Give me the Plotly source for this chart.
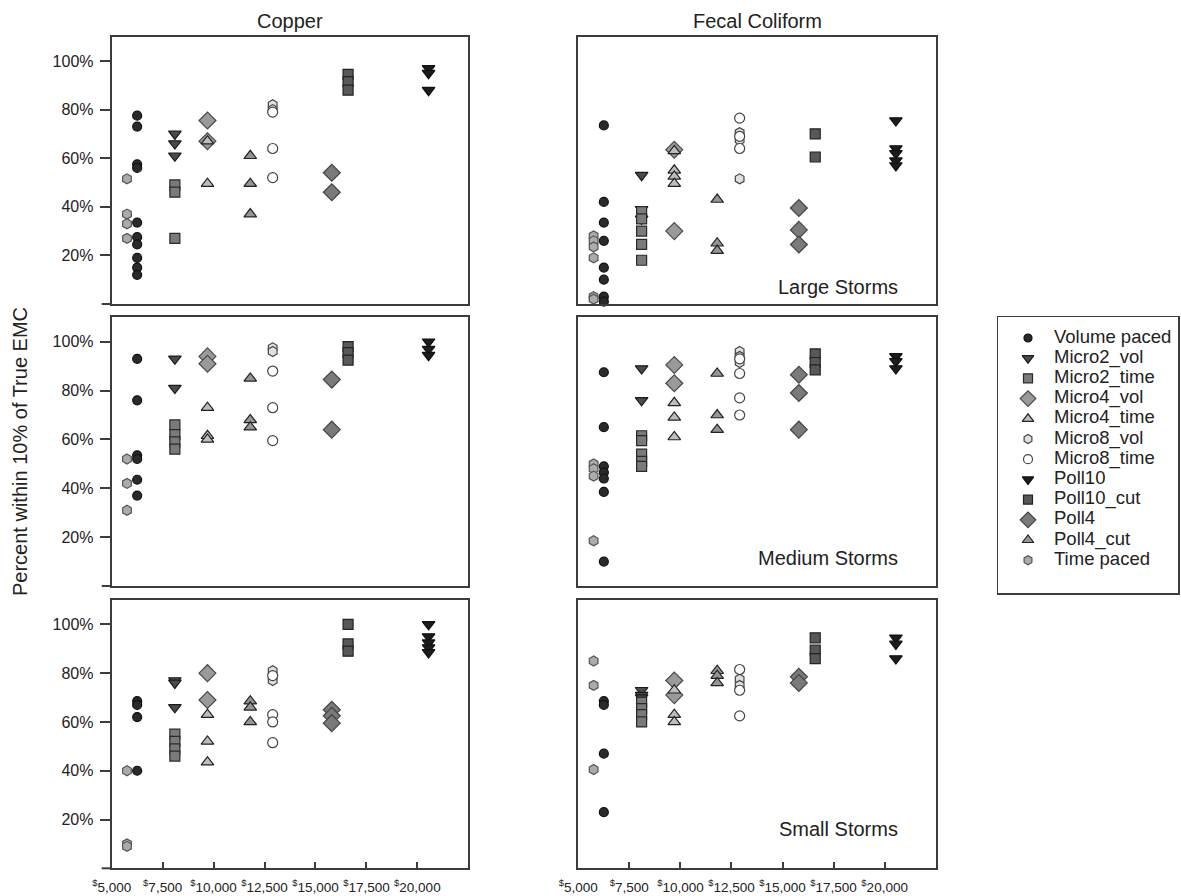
import plotly.graph_objects as go

W, H = 1181, 896

# ---------------- data ----------------
methods = ["Volume paced", "Micro2_vol", "Micro2_time", "Micro4_vol", "Micro4_time",
           "Micro8_vol", "Micro8_time", "Poll10", "Poll10_cut", "Poll4", "Poll4_cut", "Time paced"]
method_cost = [6250, 8100, 8100, 9700, 9700, 12900, 12900, 20550, 16600, 15800, 11800, 5750]

# values: percent within 10% of true EMC, one list per method (order as in `methods`)
copper_large = [
    [77.5, 73, 57.5, 56, 33.5, 27.5, 24.5, 19, 15, 12],
    [70, 66, 61], [49, 46, 27], [75.5, 67], [67, 49.5], [82, 80], [79, 64, 52],
    [97, 95, 88], [94.5, 91.5, 88], [54, 46], [61, 49.5, 37], [51.5, 37, 33, 27],
]
copper_medium = [
    [93, 76, 53.5, 52, 43.5, 37],
    [93, 81], [66, 62, 59, 56], [94, 91], [73, 61.5, 60], [97.5, 96], [88, 73, 59.5],
    [100, 97, 94.5], [98, 95.5, 92.5], [84.5, 64], [85, 68, 65], [52, 42, 31],
]
copper_small = [
    [68.5, 67, 62, 40],
    [77, 76, 66], [55, 52, 49, 46], [80, 69], [63, 52, 43.5], [81, 77], [79, 63, 60, 51.5],
    [100, 95, 92.5, 90.5, 88.5], [100, 92, 89], [65, 62.5, 59.5], [68.5, 66, 60], [40, 10, 9],
]
fecal_large = [
    [73.5, 42, 33.5, 26, 15, 10, 3, 1],
    [53, 39, 35], [38, 35, 30, 24.5, 18], [63.5, 30], [63, 55, 52.5, 49.5], [70.5, 67.5, 51.5],
    [76.5, 69, 64], [75.5, 64, 62, 59, 57], [70, 60.5], [39.5, 30.5, 24.5], [43, 25, 22],
    [28, 26, 23.5, 19, 3, 2],
]
fecal_medium = [
    [87.5, 65, 49, 46.5, 44, 38.5, 10],
    [89, 76], [61.5, 59.5, 54, 51, 49], [90.5, 83], [75, 69, 61], [96, 94, 91.5],
    [93, 87, 77, 70], [94, 92, 89], [95, 91.5, 88.5], [86.5, 79, 64], [87, 70, 64],
    [50, 48, 45, 18.5],
]
fecal_small = [
    [68.5, 67, 47, 23],
    [73, 71, 70], [68, 65.5, 63, 60], [77, 71], [73, 63, 60], [77.5, 75], [81.5, 73, 62.5],
    [94.5, 92, 86], [94.5, 89.5, 86], [78.5, 76], [81, 79, 76], [85, 75, 40.5],
]

column_titles = ["Copper", "Fecal Coliform"]
storm_labels = ["Large Storms", "Medium Storms", "Small Storms"]
y_tickvals = [20, 40, 60, 80, 100]
y_ticktext = ["20%", "40%", "60%", "80%", "100%"]
x_tickvals = [5000, 7500, 10000, 12500, 15000, 17500, 20000]
x_ticktext = ["<sup>$</sup>5,000", "<sup>$</sup>7,500", "<sup>$</sup>10,000", "<sup>$</sup>12,500",
              "<sup>$</sup>15,000", "<sup>$</sup>17,500", "<sup>$</sup>20,000"]

panels = [[copper_large, fecal_large], [copper_medium, fecal_medium], [copper_small, fecal_small]]

# ---------------- styles ----------------
styles = {
    "Volume paced": dict(symbol="circle", size=9, color="#2a2a2a", line="#111111"),
    "Micro2_vol": dict(symbol="triangle-down", size=11, color="#4a4a4a", line="#1a1a1a"),
    "Micro2_time": dict(symbol="square", size=10, color="#7a7a7a", line="#2a2a2a"),
    "Micro4_vol": dict(symbol="diamond", size=13, color="#9a9a9a", line="#4a4a4a"),
    "Micro4_time": dict(symbol="triangle-up", size=11, color="#bdbdbd", line="#222222"),
    "Micro8_vol": dict(symbol="hexagon", size=10, color="#e0e0e0", line="#444444"),
    "Micro8_time": dict(symbol="circle", size=10, color="#ffffff", line="#444444"),
    "Poll10": dict(symbol="triangle-down", size=11, color="#1c1c1c", line="#111111"),
    "Poll10_cut": dict(symbol="square", size=10, color="#585858", line="#222222"),
    "Poll4": dict(symbol="diamond", size=13, color="#7a7a7a", line="#444444"),
    "Poll4_cut": dict(symbol="triangle-up", size=11, color="#959595", line="#222222"),
    "Time paced": dict(symbol="hexagon", size=10, color="#ababab", line="#555555"),
}

FONT = "Liberation Sans, Arial, Helvetica, sans-serif"
AXC = "#3c3c3c"

# panel boxes in window pixels (left/right, top/bottom)
col_px = [(111.7, 468.3), (578.3, 935.7)]
row_px = [(36.7, 304.0), (317.3, 586.0), (600.0, 868.3)]


def fx(p):
    return p / W


def fy(p):
    return 1 - p / H


fig = go.Figure()
layout = dict(
    width=W, height=H, margin=dict(l=0, r=0, t=0, b=0, autoexpand=False),
    paper_bgcolor="white", plot_bgcolor="white", showlegend=False,
    font=dict(family=FONT, color="#222222", size=16),
)

shapes = []
annotations = []

for r in range(3):
    for c in range(2):
        k = r * 2 + c + 1
        xa = "x" if k == 1 else f"x{k}"
        ya = "y" if k == 1 else f"y{k}"
        data = panels[r][c]
        for m, name in enumerate(methods):
            st = styles[name]
            vals = data[m]
            fig.add_trace(go.Scatter(
                x=[method_cost[m]] * len(vals), y=vals, mode="markers", name=name,
                xaxis=xa, yaxis=ya, cliponaxis=False, showlegend=False,
                marker=dict(symbol=st["symbol"], size=st["size"], color=st["color"],
                            line=dict(color=st["line"], width=1.2)),
            ))
        xkey = "xaxis" if k == 1 else f"xaxis{k}"
        ykey = "yaxis" if k == 1 else f"yaxis{k}"
        x0, x1 = col_px[c]
        y0, y1 = row_px[r]
        xd = dict(domain=[fx(x0), fx(x1)], range=[5000, 22500], anchor=ya, automargin=False,
                  showline=True, mirror=True, linecolor=AXC, linewidth=2,
                  showgrid=False, zeroline=False, fixedrange=True)
        if r == 2:
            xd.update(tickmode="array", tickvals=x_tickvals, ticktext=x_ticktext,
                      ticks="inside", ticklen=6, tickwidth=2, tickcolor=AXC,
                      tickangle=0, ticklabelstandoff=5,
                      tickfont=dict(family=FONT, size=13.5, color="#222222"))
        else:
            xd.update(showticklabels=False, ticks="")
        yd = dict(domain=[fy(y1), fy(y0)], range=[0, 110], anchor=xa, automargin=False,
                  showline=True, mirror=True, linecolor=AXC, linewidth=2,
                  showgrid=False, zeroline=False, fixedrange=True)
        if c == 0:
            yd.update(tickmode="array", tickvals=y_tickvals, ticktext=y_ticktext,
                      ticks="outside", ticklen=10, tickwidth=2, tickcolor=AXC,
                      ticklabelstandoff=3,
                      tickfont=dict(family=FONT, size=16, color="#222222"))
            shapes.append(dict(type="line", xref="paper", yref="paper",
                               x0=fx(x0 - 10), x1=fx(x0), y0=fy(y1), y1=fy(y1),
                               line=dict(color=AXC, width=2)))
        else:
            yd.update(showticklabels=False, ticks="")
        layout[xkey] = xd
        layout[ykey] = yd

# column titles
for c, t in enumerate(column_titles):
    annotations.append(dict(text=t, xref="paper", yref="paper",
                            x=fx((col_px[c][0] + col_px[c][1]) / 2), y=fy(21.5),
                            xanchor="center", yanchor="middle", showarrow=False,
                            font=dict(size=20, family=FONT, color="#222222")))
# storm labels
storm_y = [286.5, 557.5, 828.5]
for r, t in enumerate(storm_labels):
    annotations.append(dict(text=t, xref="paper", yref="paper", x=fx(900), y=fy(storm_y[r]),
                            xanchor="right", yanchor="middle", showarrow=False,
                            font=dict(size=20, family=FONT, color="#222222")))
# y axis title
annotations.append(dict(text="Percent within 10% of True EMC", xref="paper", yref="paper",
                        x=fx(20), y=fy(452), textangle=-90, xanchor="center", yanchor="middle",
                        showarrow=False, font=dict(size=20, family=FONT, color="#222222")))

# ---------------- legend (own small axis) ----------------
LX0, LX1, LY0, LY1 = 998, 1178, 317, 593
first_y, step = 338.0, 20.2
for i, name in enumerate(methods):
    st = styles[name]
    fig.add_trace(go.Scatter(
        x=[30], y=[i], mode="markers", xaxis="x7", yaxis="y7", showlegend=False,
        cliponaxis=False,
        marker=dict(symbol=st["symbol"], size=st["size"] - 1, color=st["color"],
                    line=dict(color=st["line"], width=1.2)),
    ))
fig.add_trace(go.Scatter(
    x=[56] * len(methods), y=list(range(len(methods))), mode="text", text=methods,
    textposition="middle right", xaxis="x7", yaxis="y7", showlegend=False, cliponaxis=False,
    textfont=dict(family=FONT, size=18.5, color="#222222"),
))
layout["xaxis7"] = dict(domain=[fx(LX0), fx(LX1)], range=[0, LX1 - LX0], anchor="y7",
                        automargin=False,
                        showline=True, mirror=True, linecolor=AXC, linewidth=1.5,
                        showgrid=False, zeroline=False, showticklabels=False, ticks="",
                        fixedrange=True)
layout["yaxis7"] = dict(domain=[fy(LY1), fy(LY0)], automargin=False,
                        range=[(LY1 - first_y) / step, -(first_y - LY0) / step], anchor="x7",
                        showline=True, mirror=True, linecolor=AXC, linewidth=1.5,
                        showgrid=False, zeroline=False, showticklabels=False, ticks="",
                        fixedrange=True)

layout["shapes"] = shapes
layout["annotations"] = annotations
fig.update_layout(**layout)
fig.write_html(
    "out.html",
    config={"displayModeBar": False, "staticPlot": True},
    post_script="document.body.style.margin='0';document.body.style.overflow='hidden';",
)
